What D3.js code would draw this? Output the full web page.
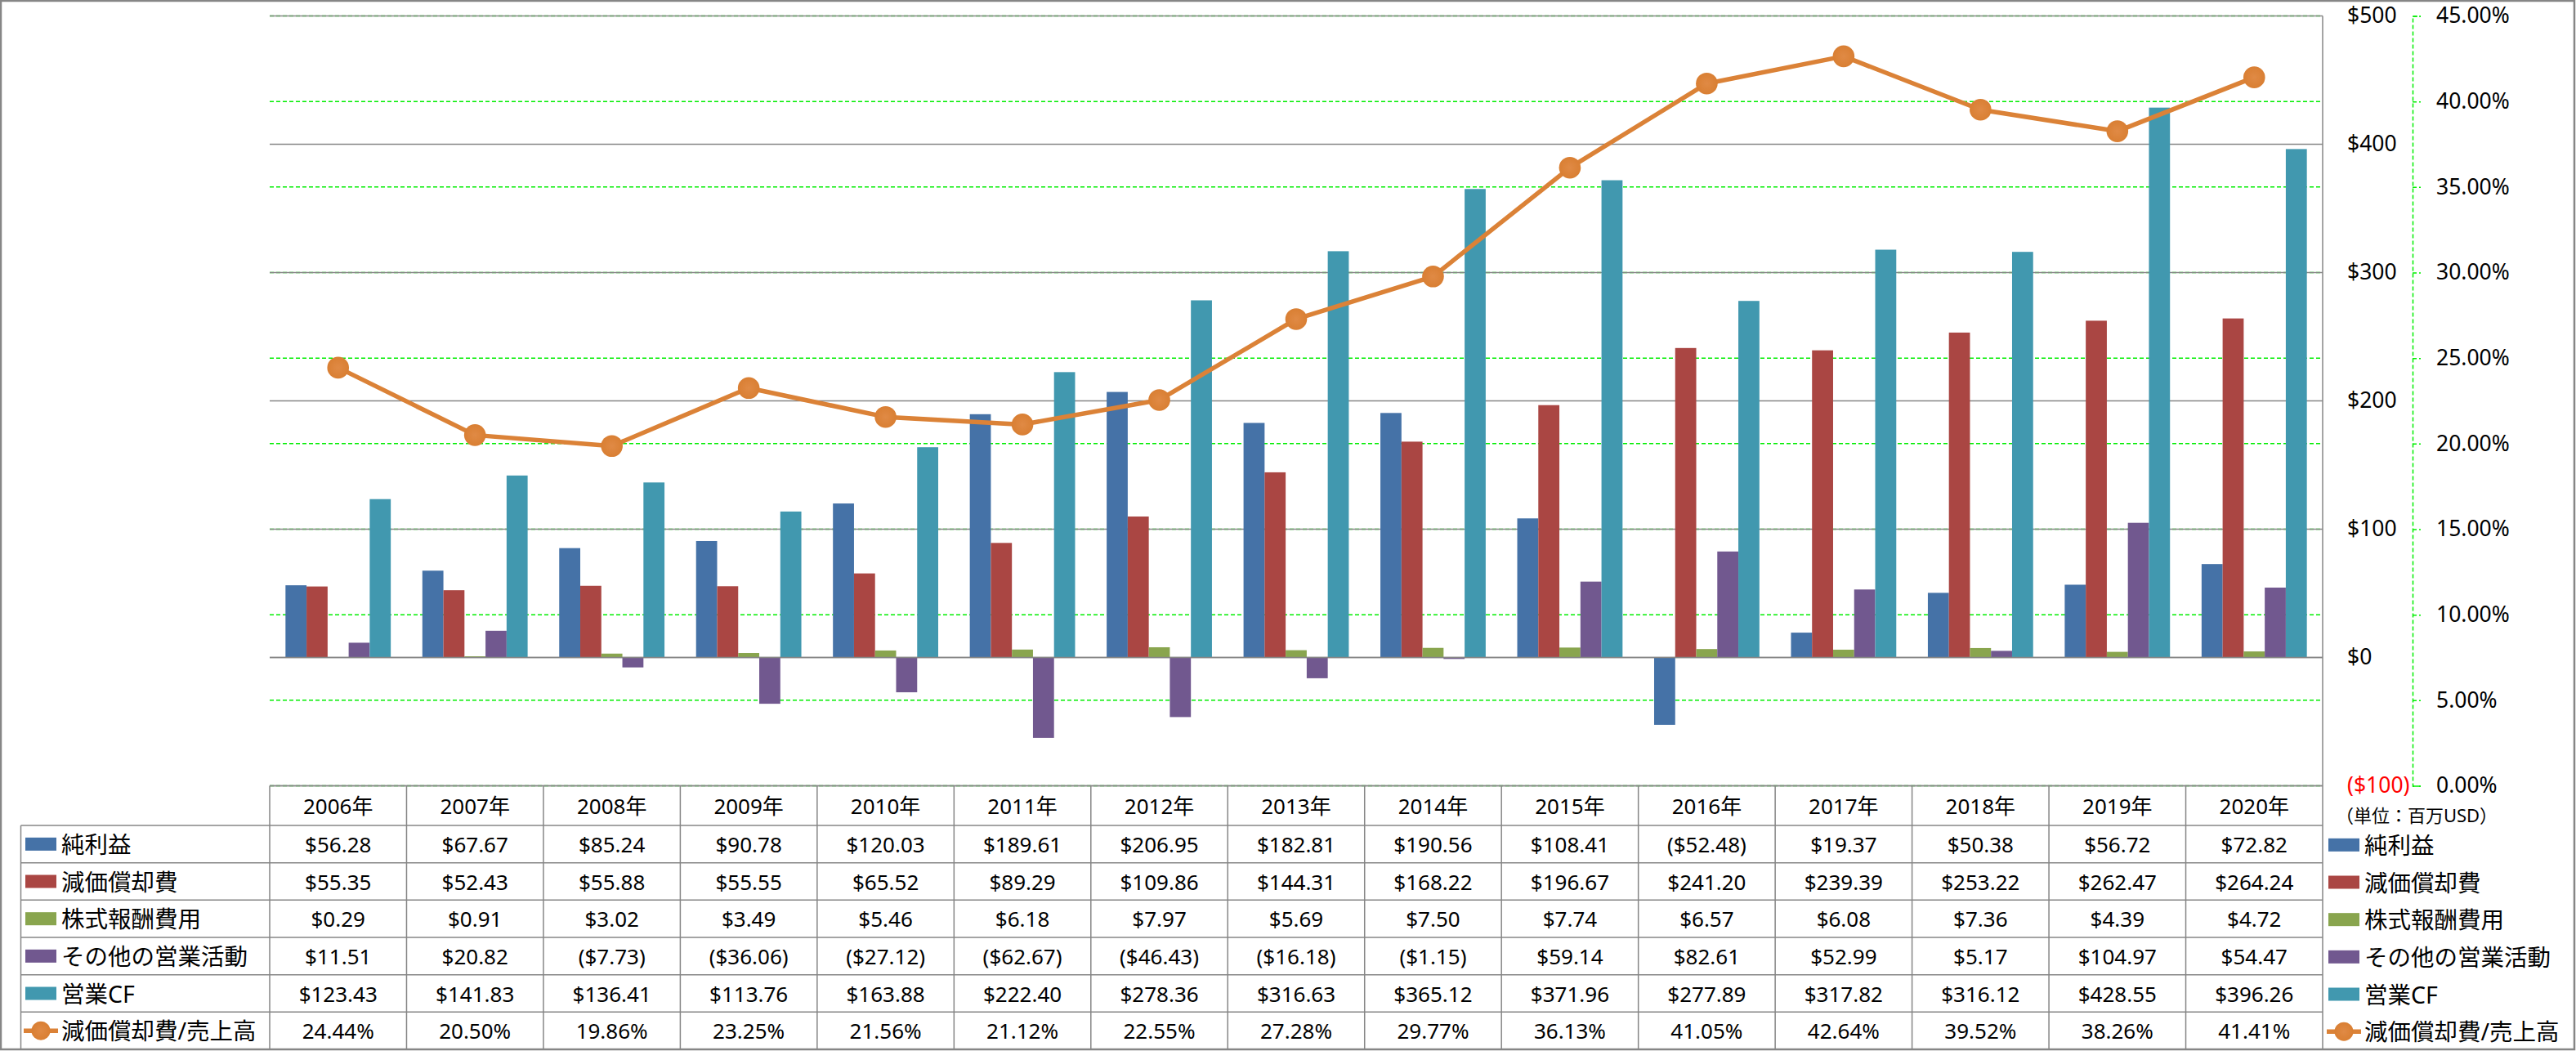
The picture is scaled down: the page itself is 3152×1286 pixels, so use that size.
<!DOCTYPE html>
<html>
<head>
<meta charset="utf-8">
<script src="https://cdn.jsdelivr.net/npm/d3@7"></script>
<style>
  html, body { margin: 0; padding: 0; background: #fff; }
  svg { display: block; }
  text { font-family: "Noto Sans", "Noto Sans CJK JP", sans-serif; fill: #000; }
</style>
</head>
<body>
<svg id="chart" width="3152" height="1286"></svg>
<script>
// ---------- DATA ----------
const years = ["2006年","2007年","2008年","2009年","2010年","2011年","2012年","2013年","2014年","2015年","2016年","2017年","2018年","2019年","2020年"];
const seriesNames = ["純利益","減価償却費","株式報酬費用","その他の営業活動","営業CF"];
const netIncome    = [56.28, 67.67, 85.24, 90.78, 120.03, 189.61, 206.95, 182.81, 190.56, 108.41, -52.48, 19.37, 50.38, 56.72, 72.82];
const depreciation = [55.35, 52.43, 55.88, 55.55, 65.52, 89.29, 109.86, 144.31, 168.22, 196.67, 241.20, 239.39, 253.22, 262.47, 264.24];
const stockComp    = [0.29, 0.91, 3.02, 3.49, 5.46, 6.18, 7.97, 5.69, 7.50, 7.74, 6.57, 6.08, 7.36, 4.39, 4.72];
const otherOps     = [11.51, 20.82, -7.73, -36.06, -27.12, -62.67, -46.43, -16.18, -1.15, 59.14, 82.61, 52.99, 5.17, 104.97, 54.47];
const operatingCF  = [123.43, 141.83, 136.41, 113.76, 163.88, 222.40, 278.36, 316.63, 365.12, 371.96, 277.89, 317.82, 316.12, 428.55, 396.26];
const lineName = "減価償却費/売上高";
const deprRatio    = [24.44, 20.50, 19.86, 23.25, 21.56, 21.12, 22.55, 27.28, 29.77, 36.13, 41.05, 42.64, 39.52, 38.26, 41.41];
const dollarTicks  = [-100, 0, 100, 200, 300, 400, 500];
const pctTicks     = [0, 5, 10, 15, 20, 25, 30, 35, 40, 45];
const unitLabel = "（単位：百万USD）";

const barSeries = [netIncome, depreciation, stockComp, otherOps, operatingCF];
const barColors = ["#4572A7", "#AA4643", "#89A54E", "#71588F", "#4198AF"];
const lineColor = "#DB8237";

// ---------- LAYOUT ----------
const W = 3152, H = 1286;
const plotL = 330, plotR = 2842, plotT = 19.5, plotB = 961.5;
const tableTop = 961.5, headerB = 1010, rowH = 45.67, tableLeft = 25.5, tableBottom = 1284;

const svg = d3.select("#chart");
const gridColor = "#868686";

const x = d3.scaleBand().domain(years).range([plotL, plotR]).paddingInner(0).paddingOuter(0);
const xb = d3.scaleBand().domain(d3.range(barSeries.length)).range([0, x.bandwidth()]).paddingInner(0).paddingOuter(0.75);
const y = d3.scaleLinear().domain([-100, 500]).range([plotB, plotT]);
const yp = d3.scaleLinear().domain([0, 45]).range([plotB, plotT]);

const fmtMoney = v => v < 0 ? "($" + d3.format(",.2f")(-v) + ")" : "$" + d3.format(",.2f")(v);
const fmtPct = v => d3.format(".2f")(v) + "%";

// outer border
svg.append("rect").attr("x", 1).attr("y", 1).attr("width", W - 3).attr("height", H - 3)
  .attr("fill", "none").attr("stroke", gridColor).attr("stroke-width", 2.5);

// green percent gridlines
svg.append("g").selectAll("line").data(pctTicks).join("line")
  .attr("x1", plotL).attr("x2", plotR)
  .attr("y1", d => yp(d)).attr("y2", d => yp(d))
  .attr("stroke", "#00EE00").attr("stroke-width", 1.5).attr("stroke-dasharray", "5,3");

// gray dollar gridlines
svg.append("g").selectAll("line").data(dollarTicks).join("line")
  .attr("x1", plotL).attr("x2", plotR)
  .attr("y1", d => y(d)).attr("y2", d => y(d))
  .attr("stroke", gridColor).attr("stroke-width", 1.5);

// bars
barSeries.forEach((vals, si) => {
  svg.append("g").selectAll("rect").data(vals).join("rect")
    .attr("x", (d, i) => x(years[i]) + xb(si))
    .attr("width", xb.bandwidth())
    .attr("y", d => y(Math.max(0, d)))
    .attr("height", d => Math.abs(y(d) - y(0)))
    .attr("fill", barColors[si]);
});

// zero line on top
svg.append("line").attr("x1", plotL).attr("x2", plotR).attr("y1", y(0)).attr("y2", y(0))
  .attr("stroke", gridColor).attr("stroke-width", 1.5);

// line series
const lineGen = d3.line().x((d, i) => x(years[i]) + x.bandwidth() / 2).y(d => yp(d));
svg.append("path").datum(deprRatio).attr("d", lineGen)
  .attr("fill", "none").attr("stroke", lineColor).attr("stroke-width", 5.5).attr("stroke-linejoin", "round");
const defs = svg.append("defs");
const grad = defs.append("radialGradient").attr("id", "mk");
grad.append("stop").attr("offset", "0%").attr("stop-color", "#E08A45");
grad.append("stop").attr("offset", "100%").attr("stop-color", "#D97F33");
svg.append("g").selectAll("circle").data(deprRatio).join("circle")
  .attr("cx", (d, i) => x(years[i]) + x.bandwidth() / 2)
  .attr("cy", d => yp(d)).attr("r", 13.3).attr("fill", "url(#mk)");

// right plot border (extends through table)
svg.append("line").attr("x1", plotR).attr("x2", plotR).attr("y1", plotT).attr("y2", tableBottom)
  .attr("stroke", gridColor).attr("stroke-width", 1.5);

// primary axis (dollar) labels
const axisY = svg.append("g").attr("transform", `translate(${plotR},0)`)
  .call(d3.axisRight(y).tickValues(dollarTicks).tickSize(0).tickPadding(30).tickFormat(d => d < 0 ? "($" + (-d) + ")" : "$" + d));
axisY.select(".domain").remove();
axisY.selectAll("text").style("font-size", "26.5px").style("font-family", "'Noto Sans', sans-serif")
  .style("fill", d => d < 0 ? "#FF0000" : "#000");

// secondary axis (percent)
const axisP = svg.append("g").attr("transform", "translate(2952,0)")
  .call(d3.axisRight(yp).tickValues(pctTicks).tickSize(10).tickPadding(19).tickFormat(d => d3.format(".2f")(d) + "%"));
axisP.select(".domain").attr("stroke", "#00EE00").attr("stroke-width", 1.5).attr("stroke-dasharray", "5,3");
axisP.selectAll(".tick line").attr("stroke", "#00EE00").attr("stroke-width", 1.5).attr("stroke-dasharray", "5,3");
axisP.selectAll("text").style("font-size", "26.5px").style("font-family", "'Noto Sans', sans-serif").style("fill", "#000");

// unit label
svg.append("text").attr("x", 2957).attr("y", 997).attr("text-anchor", "middle")
  .attr("dominant-baseline", "central").style("font-size", "22px").text(unitLabel);

// ---------- DATA TABLE ----------
const tbl = svg.append("g");
tbl.append("line").attr("x1", plotL).attr("x2", plotR).attr("y1", tableTop).attr("y2", tableTop)
  .attr("stroke", gridColor).attr("stroke-width", 1.5);
const rowsY = d3.range(7).map(i => headerB + i * rowH);
tbl.selectAll("line.h").data(rowsY).join("line").attr("class", "h")
  .attr("x1", tableLeft).attr("x2", plotR).attr("y1", d => d).attr("y2", d => d)
  .attr("stroke", gridColor).attr("stroke-width", 1.5);
tbl.selectAll("line.v").data(years).join("line").attr("class", "v")
  .attr("x1", d => x(d)).attr("x2", d => x(d)).attr("y1", tableTop).attr("y2", tableBottom)
  .attr("stroke", gridColor).attr("stroke-width", 1.5);
tbl.append("line").attr("x1", tableLeft).attr("x2", tableLeft).attr("y1", headerB).attr("y2", tableBottom)
  .attr("stroke", gridColor).attr("stroke-width", 1.5);

// header
tbl.selectAll("text.yr").data(years).join("text").attr("class", "yr")
  .attr("x", d => x(d) + x.bandwidth() / 2).attr("y", (tableTop + headerB) / 2)
  .attr("text-anchor", "middle").attr("dominant-baseline", "central")
  .style("font-size", "26px").text(d => d);

const rowData = barSeries.map((vals, si) => ({ name: seriesNames[si], color: barColors[si], vals: vals.map(fmtMoney), isLine: false }))
  .concat([{ name: lineName, color: lineColor, vals: deprRatio.map(fmtPct), isLine: true }]);

function legendIcon(g, cx, cy, row) {
  if (row.isLine) {
    g.append("line").attr("x1", cx - 21).attr("x2", cx + 21).attr("y1", cy).attr("y2", cy)
      .attr("stroke", row.color).attr("stroke-width", 5.5);
    g.append("circle").attr("cx", cx).attr("cy", cy).attr("r", 11.5).attr("fill", "url(#mk)");
  } else {
    g.append("rect").attr("x", cx - 19).attr("y", cy - 8).attr("width", 38).attr("height", 16).attr("fill", row.color);
  }
}

rowData.forEach((row, ri) => {
  const cy = headerB + ri * rowH + rowH / 2;
  legendIcon(tbl, 50, cy, row);
  tbl.append("text").attr("x", 75).attr("y", cy).attr("dominant-baseline", "central")
    .style("font-size", "28.5px").text(row.name);
  tbl.append("g").selectAll("text").data(row.vals).join("text")
    .attr("x", (d, i) => x(years[i]) + x.bandwidth() / 2).attr("y", cy)
    .attr("text-anchor", "middle").attr("dominant-baseline", "central")
    .style("font-size", "26px").text(d => d);
  legendIcon(svg, 2868, cy + 1, row);
  svg.append("text").attr("x", 2893).attr("y", cy + 1).attr("dominant-baseline", "central")
    .style("font-size", "28.5px").text(row.name);
});
</script>
</body>
</html>
